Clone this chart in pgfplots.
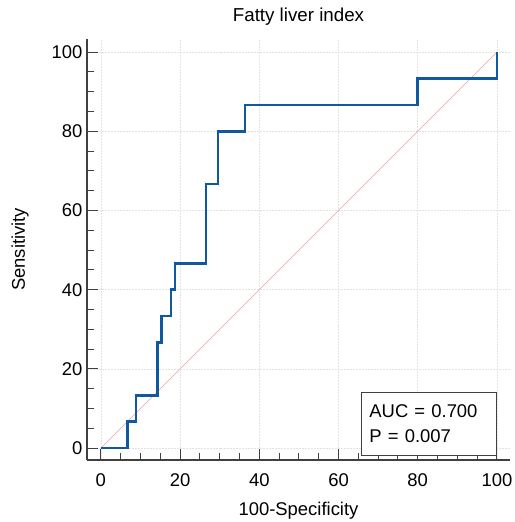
\documentclass[border=0pt]{standalone}
\usepackage{fontspec}
\setmainfont{Liberation Sans}
\usepackage{pgfplots}
\pgfplotsset{compat=1.18}
\definecolor{roc}{RGB}{16,88,160}
\definecolor{diag}{RGB}{240,160,160}
\definecolor{spine}{RGB}{64,64,64}
\begin{document}
\begin{tikzpicture}
\useasboundingbox (-87bp,-62bp) rectangle (428bp,460bp);
\begin{axis}[
  scale only axis,
  width=423bp, height=421bp,
  xmin=-3.5, xmax=103.3, ymin=-3, ymax=103.3,
  axis x line*=bottom, axis y line*=left,
  axis line style={spine, line width=1.8pt},
  xtick={0,20,40,60,80,100}, ytick={0,20,40,60,80,100},
  minor tick num=3,
  tick align=inside,
  major tick length=11bp, minor tick length=7bp,
  tick style={spine, line width=1pt},
  grid=major,
  grid style={gray!22, dash pattern=on 2pt off 1pt, line width=0.6pt},
  ticklabel style={font=\fontsize{18.5}{20}\selectfont},
  xticklabel style={yshift=-10bp},
  yticklabel style={xshift=-1bp},
  /pgf/number format/assume math mode=true,
  title={\fontsize{18.8}{20}\selectfont Fatty liver index},
  title style={at={(0.5,1)}, anchor=south, yshift=4bp},
  xlabel={\fontsize{18.5}{20}\selectfont 100-Specificity},
  ylabel={\fontsize{18.5}{20}\selectfont Sensitivity},
  xlabel style={at={(0.5,0)}, anchor=center, yshift=-51bp},
  ylabel style={at={(0,0.5)}, anchor=center, yshift=67bp},
  clip=false,
]
\addplot[diag, line width=0.5pt] coordinates {(0,0) (100,100)};
\addplot[roc, line width=2.6pt, line join=miter] coordinates {
(0,0) (6.67,0) (6.67,6.67) (8.9,6.67) (8.9,13.33) (14.3,13.33) (14.3,26.67)
(15.3,26.67) (15.3,33.33) (17.7,33.33) (17.7,40) (18.7,40) (18.7,46.67)
(26.5,46.67) (26.5,66.67) (29.6,66.67) (29.6,80) (36.4,80) (36.4,86.67)
(80,86.67) (80,93.33) (100,93.33) (100,100)
};
\node[draw=spine, line width=1pt, fill=white, anchor=south east, align=left,
  inner xsep=8bp, inner ysep=5bp, font=\fontsize{18.5}{25}\selectfont,
  minimum width=135bp, minimum height=63bp, text width=119bp]
  at (axis cs:100,-2) {AUC = 0.700\\P = 0.007};
\end{axis}
\end{tikzpicture}
\end{document}
